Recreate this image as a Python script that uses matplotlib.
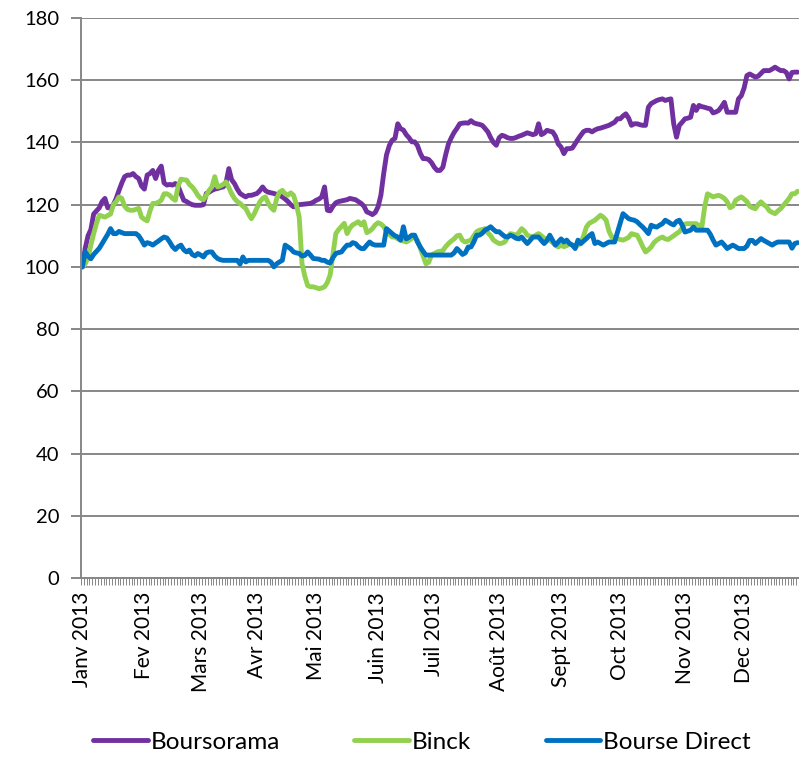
import matplotlib
matplotlib.use('Agg')
import matplotlib.pyplot as plt
import numpy as np

plt.rcParams['font.family'] = ['Lato', 'DejaVu Sans']

month_labels = ['Janv 2013', 'Fev 2013', 'Mars 2013', 'Avr 2013', 'Mai 2013',
                'Juin 2013', 'Juil 2013', 'Août 2013', 'Sept 2013', 'Oct 2013',
                'Nov 2013', 'Dec 2013']
month_days = [22, 20, 20, 21, 22, 20, 23, 22, 21, 23, 21, 20]
series_names = ['Boursorama', 'Binck', 'Bourse Direct']
y_ticks = [0, 20, 40, 60, 80, 100, 120, 140, 160, 180]

boursorama = [
    100, 106, 110, 112, 117, 118, 119, 121, 122, 119,
    119, 120, 122, 124.6, 127, 129, 129.5, 129.5, 130, 129,
    128.4, 126, 125, 129.5, 130, 131, 128.4, 131, 132.4, 127,
    126.3, 126.5, 126.3, 126.8, 126, 123.6, 121.4, 121, 120.4, 120,
    119.8, 119.8, 119.8, 120, 123.6, 124, 124.6, 125, 125.2, 125.5,
    125.7, 127, 131.6, 128, 126.8, 125, 123.6, 123, 122.5, 123,
    123, 123.3, 123.6, 124.5, 125.7, 124.5, 124, 123.8, 123.6, 123.3,
    123, 122.5, 121.8, 121, 120, 119.3, 119.5, 120, 120.1, 120.2,
    120.3, 120.4, 120.8, 121.4, 121.8, 122.5, 125.7, 118.2, 118, 119.5,
    120.6, 121, 121.2, 121.4, 121.6, 122, 121.8, 121.6, 121, 120.4,
    119.5, 117.7, 117.3, 116.8, 117.5, 119.3, 123, 130, 136, 139,
    140.7, 141.3, 146, 144.4, 144, 142.5, 141.5, 140.2, 140.2, 139,
    136.5, 134.8, 134.8, 134.5, 133.5, 132, 131, 131, 132, 136,
    139.5, 141.5, 143.2, 144.5, 146, 146.2, 146.3, 146.2, 147, 146.3,
    146, 145.8, 145.5, 144.5, 143.4, 141.5, 140, 139.1, 141.5, 142.3,
    142, 141.5, 141.3, 141.3, 141.6, 142, 142.3, 142.7, 143.1, 142.8,
    142.5, 142.8, 146, 142.5, 143, 143.9, 143.6, 143.4, 142, 139.5,
    138.5, 136.4, 138, 138, 138.2, 139.6, 141, 142.3, 143.5, 143.9,
    143.9, 143.4, 144, 144.4, 144.6, 144.9, 145.2, 145.5, 146, 146.5,
    147.6, 147.6, 148.5, 149.2, 147.8, 145.5, 146, 146, 145.7, 145.5,
    145.5, 151.3, 152.5, 153, 153.5, 153.8, 154, 153.5, 153.8, 154,
    146, 141.7, 145.5, 146.5, 147.6, 147.8, 148.1, 151.9, 150.3, 151.9,
    151.5, 151.3, 151, 150.8, 149.5, 149.8, 150.3, 151.5, 152.9, 149.7,
    149.7, 149.7, 149.7, 154, 155, 157.5, 161.5, 162, 161.5, 161,
    161.3, 162.2, 163.1, 163.1, 163.1, 163.6, 164.2, 163.6, 163.1, 163.1,
    162.5, 160.4, 162.5, 162.6, 162.6]

binck = [
    100, 101, 103, 107, 110.7, 114, 116.6, 116.3, 116, 116.5,
    117, 120, 121, 122.5, 122, 119.5, 118.5, 118.2, 118.2, 118.5,
    118.8, 116, 115.3, 114.8, 118, 120.4, 120.4, 120.8, 121.4, 123.5,
    123.5, 123, 122, 121.4, 126, 128.2, 128, 127.9, 126.5, 125.7,
    124.5, 123, 122, 121.6, 123, 124.6, 125.7, 129, 125.7, 126,
    126.5, 127.3, 125.5, 123.5, 122, 121, 120.4, 119.5, 118.8, 117,
    115.5, 117, 119, 120.9, 122, 122.5, 120.5, 119, 118.2, 122,
    124, 124.6, 123.5, 123, 123.8, 123, 120, 116, 101, 97,
    94, 93.6, 93.6, 93.3, 93, 93.2, 93.6, 95, 97.5, 104,
    110.7, 112, 113, 114, 110.7, 112.5, 113.5, 114, 114.5, 113.5,
    114.5, 111, 111.5, 112.3, 113.5, 114.2, 113.8, 113, 111.3, 110.5,
    109.6, 109.6, 109, 108.6, 108.3, 108, 108.5, 109.2, 109.6, 108.5,
    106, 103.5, 101, 101.5, 103.8, 104.3, 104.8, 105, 105.2, 106.5,
    107.5, 108.3, 109, 110, 110.2, 108.5, 108, 108.3, 108.6, 110,
    111.3, 111.8, 112, 112.3, 111, 110, 108.6, 108, 107.5, 107.6,
    108, 109.5, 110.7, 110.5, 110.2, 111, 112.3, 111.5, 110.2, 109.8,
    109.6, 110.2, 110.7, 110, 109.2, 109, 108.6, 107.8, 107, 106.4,
    107, 106.5, 106.8, 107.5, 107, 106.4, 107, 107.5, 110, 112.8,
    114, 114.5, 115, 115.8, 116.6, 116, 115, 111.5, 109.6, 109.4,
    109.1, 108.8, 108.6, 109, 109.5, 110.7, 110.4, 110.2, 108.5, 106.5,
    104.8, 105.5, 106.4, 107.8, 108.6, 109.2, 109.6, 109, 108.8, 109.4,
    110, 110.7, 111.3, 112.5, 113.8, 113.9, 113.9, 113.9, 113.9, 113.3,
    112.8, 119.3, 123.5, 123, 122.5, 122.8, 123, 122.6, 122, 120.9,
    119, 119.5, 121.4, 122, 122.5, 121.8, 121, 119.5, 119, 118.7,
    120, 120.9, 120, 119.3, 118, 117.5, 117.1, 118, 118.7, 119.8,
    120.9, 122, 123.5, 123.5, 124.3]

bourse_direct = [
    100, 104.8, 103.5, 102.6, 104, 105, 106, 107.5, 109, 110.5,
    112.3, 110.7, 110.7, 111.4, 111, 110.7, 110.7, 110.7, 110.7, 110.7,
    110, 108.6, 107, 107.8, 107.5, 107, 107.7, 108.3, 109, 109.6,
    109.3, 108, 106.5, 105.6, 106.5, 107, 105.5, 104.8, 105.4, 104,
    103.5, 104.3, 103.8, 103.2, 104.5, 104.8, 104.8, 103.5, 102.7, 102.3,
    102.1, 102.1, 102.1, 102.1, 102.1, 102.1, 100.9, 103.2, 101.6, 102.1,
    102.1, 102.1, 102.1, 102.1, 102.1, 102.1, 102.1, 101.5, 100, 101,
    101.6, 102.1, 107, 106.4, 105.8, 104.8, 104.5, 104.3, 103.5, 103.7,
    104.8, 103.8, 102.7, 102.6, 102.5, 102.1, 102.1, 101.5, 101.3, 103,
    104.3, 104.6, 104.8, 106, 107, 107, 107.8, 107.5, 106.5, 105.9,
    105.9, 107, 108, 107.3, 107, 107, 107, 107, 112.3, 111.5,
    110.7, 110, 109.6, 108.6, 112.9, 109, 109.5, 110.2, 110.2, 108,
    106.4, 105, 103.8, 103.8, 103.8, 103.8, 103.8, 103.8, 103.8, 103.8,
    103.8, 103.8, 104.5, 105.9, 105, 104, 104.5, 106.4, 106.4, 108,
    110.2, 110.2, 110.8, 111.8, 112.3, 112.9, 112, 111.3, 111.3, 110.5,
    109.8, 109.6, 110.2, 109.8, 109.2, 109, 109.6, 108.5, 107.5, 108.5,
    109.6, 109.6, 109.6, 108.5, 107.5, 108.5, 110.2, 108.5, 107, 108,
    109, 108, 108.6, 107.5, 107, 105.9, 108.6, 107.5, 108.3, 109.1,
    110, 110.7, 107.5, 108, 107.5, 107, 107.5, 108, 108, 108,
    111, 114, 117.1, 116.3, 115.5, 115.2, 115, 114.5, 113.6, 112.8,
    111.8, 110.7, 113.4, 113, 112.8, 113.4, 113.9, 115, 114.5, 113.9,
    113.5, 114.6, 115, 113.4, 111.2, 111.5, 111.8, 112.8, 111.8, 111.8,
    111.8, 111.8, 111.8, 110.5, 108.6, 107, 107.5, 108, 107, 105.9,
    106.5, 107, 106.5, 105.9, 105.9, 105.9, 106.7, 108.5, 108.5, 107.5,
    108.3, 109.1, 108.5, 108, 107.5, 107, 107.6, 108, 108, 108,
    108, 108, 106, 107.5, 107.8]

colors = ['#7030A0', '#92D050', '#0070C0']
grid_gray = '#878787'

fig = plt.figure(figsize=(7.99, 7.58), dpi=100)
ax = fig.add_axes([81 / 799, 1 - 578 / 758, 1 - 81 / 799, 560 / 758])

for vals, name, c in zip([boursorama, binck, bourse_direct], series_names, colors):
    ax.plot(np.arange(len(vals)), vals, color=c, lw=3.5, label=name,
            solid_capstyle='round', solid_joinstyle='round')

n = len(boursorama)
ax.set_xlim(-0.5, n - 0.5)
ax.set_ylim(0, 180)
ax.set_yticks(y_ticks)
ax.set_yticklabels([str(v) for v in y_ticks], fontsize=14.5)

month_start = np.concatenate([[0], np.cumsum(month_days)[:-1]])
ax.set_xticks(month_start)
ax.set_xticklabels(month_labels, rotation=90, fontsize=15)
ax.set_xticks(np.arange(n + 1) - 0.5, minor=True)
ax.tick_params(axis='x', which='major', length=0, pad=10)
ax.tick_params(axis='x', which='minor', length=5, width=0.7, color=grid_gray)
ax.tick_params(axis='y', which='major', length=7.5, width=1.4, color=grid_gray, pad=8)

ax.yaxis.grid(True, color=grid_gray, lw=1.4)
ax.set_axisbelow(True)
for s in ['top', 'right']:
    ax.spines[s].set_visible(False)
for s in ['left', 'bottom']:
    ax.spines[s].set_color(grid_gray)
    ax.spines[s].set_linewidth(1.4)

fig.legend(loc='center', bbox_to_anchor=(422 / 799, 1 - 742 / 758), ncol=3,
           frameon=False, fontsize=17.5, handlelength=2.26, handletextpad=0.12,
           columnspacing=3.05)

fig.savefig('out.png', dpi=100)
